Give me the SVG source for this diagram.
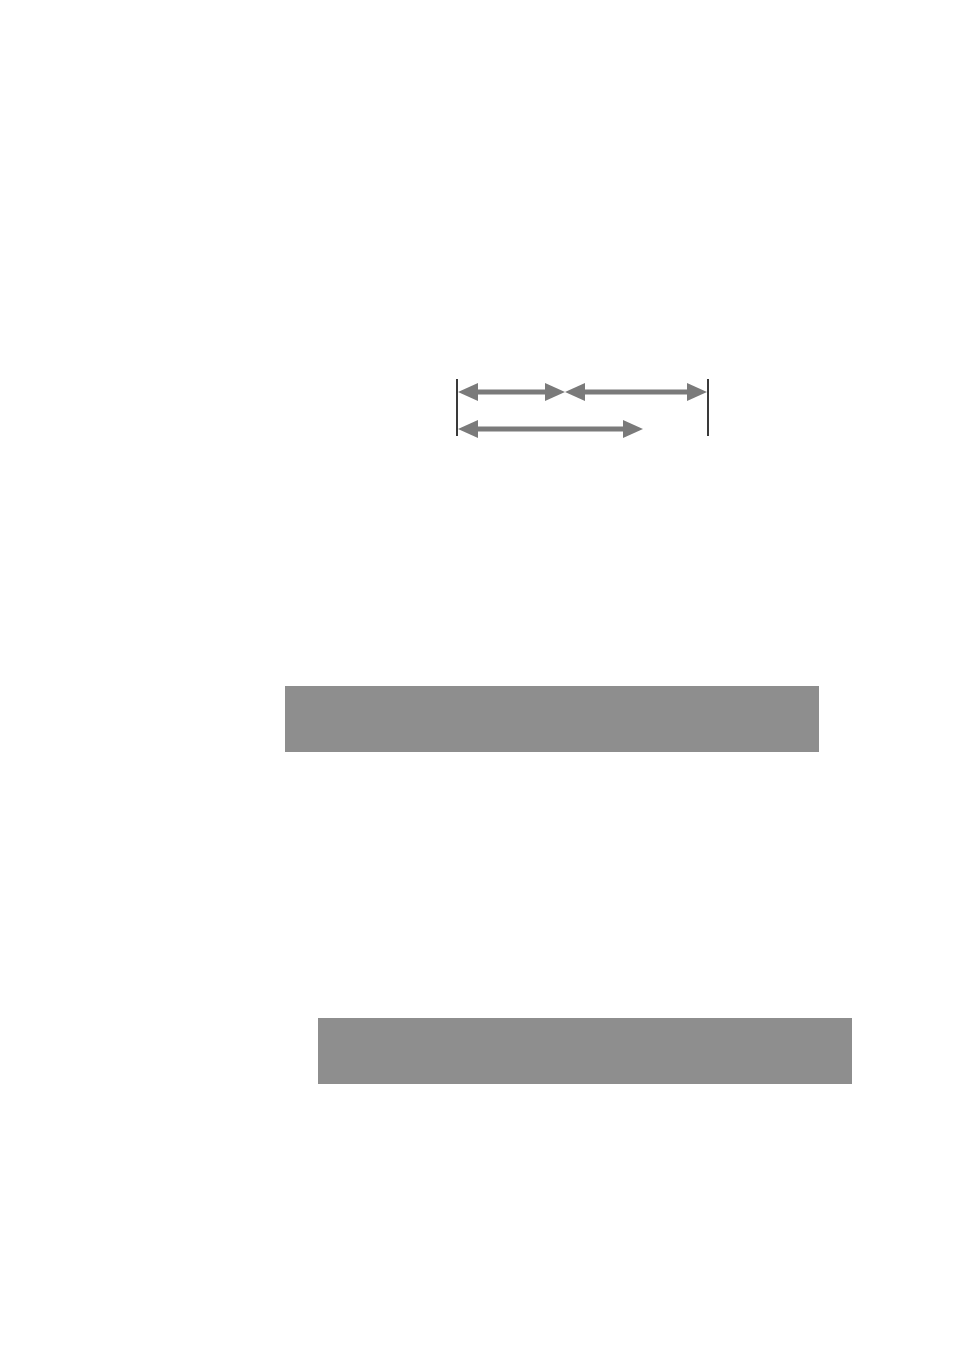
<svg xmlns="http://www.w3.org/2000/svg" width="954" height="1350" viewBox="0 0 954 1350">
<style>
.tick{stroke:#3a3a3a;stroke-width:2}
.dim{stroke:#7a7a7a;stroke-width:5;fill:none}
.bar{fill:#8e8e8e}
</style>
<defs>
<marker id="ah" viewBox="0 0 20 18" refX="2" refY="9" markerWidth="20" markerHeight="18" markerUnits="userSpaceOnUse" orient="auto-start-reverse">
<path d="M0,0 L20,9 L0,18 Z" fill="#7a7a7a"/>
</marker>
</defs>
<rect width="954" height="1350" fill="#ffffff"/>
<g id="ticks">
<line class="tick" x1="457" y1="379" x2="457" y2="436"/>
<line class="tick" x1="708" y1="379" x2="708" y2="436"/>
</g>
<g id="connectors">
<line class="dim" x1="476" y1="392" x2="547" y2="392" marker-start="url(#ah)" marker-end="url(#ah)"/>
<line class="dim" x1="583" y1="392" x2="689" y2="392" marker-start="url(#ah)" marker-end="url(#ah)"/>
<line class="dim" x1="476" y1="429" x2="625" y2="429" marker-start="url(#ah)" marker-end="url(#ah)"/>
</g>
<g id="bar1"><rect class="bar" x="285" y="686" width="534" height="66"/></g>
<g id="bar2"><rect class="bar" x="318" y="1018" width="534" height="66"/></g>
</svg>
